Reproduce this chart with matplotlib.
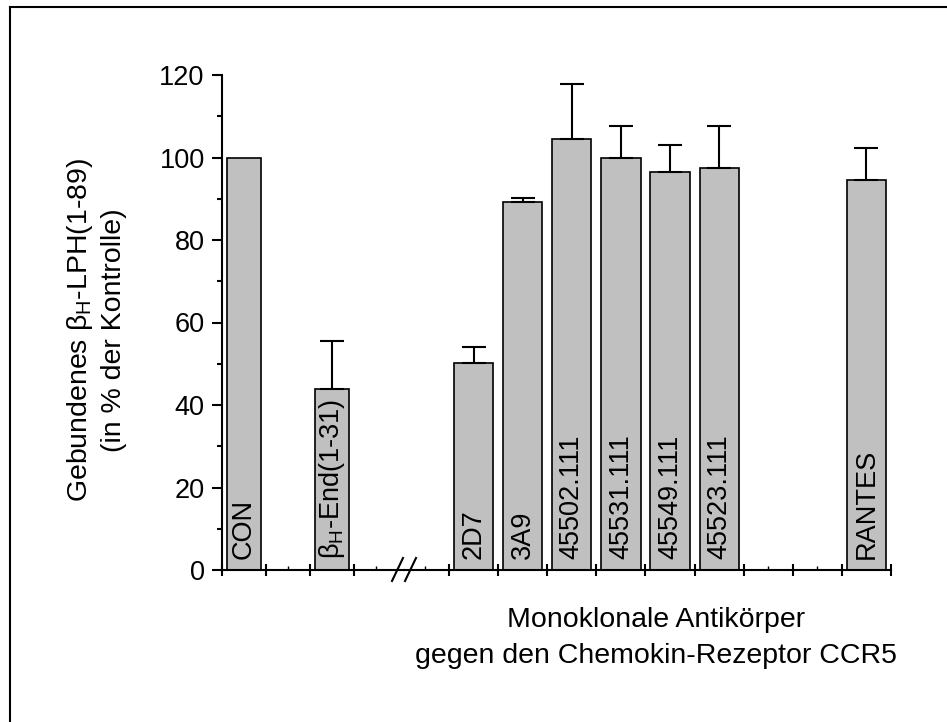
import matplotlib
matplotlib.use('Agg')
import matplotlib.pyplot as plt
from matplotlib.lines import Line2D
import numpy as np

# Daten
ctrl_labels = ['CON', r'β$_{\mathrm{H}}$-End(1-31)']
ctrl_slots = [0, 2]
ctrl_values = [100, 43.8]
ctrl_err = [0, 11.8]

ab_labels = ['2D7', '3A9', '45502.111', '45531.111', '45549.111', '45523.111', 'RANTES']
ab_slots = [0, 1, 2, 3, 4, 5, 8]
ab_values = [50.2, 89.3, 104.5, 100.0, 96.5, 97.5, 94.6]
ab_err = [3.9, 0.9, 13.3, 7.6, 6.6, 10.1, 7.6]

plt.rcParams['font.family'] = ['Liberation Sans', 'DejaVu Sans']
plt.rcParams['mathtext.fontset'] = 'custom'
plt.rcParams['mathtext.rm'] = 'Liberation Sans'
plt.rcParams['mathtext.it'] = 'Liberation Sans:italic'

W, H = 947, 722
fig = plt.figure(figsize=(W / 100, H / 100), dpi=100)

# axes positions in pixels
x0, xb, x1 = 222, 404, 891
y0, y1 = 570, 75
bot = 1 - y0 / H
hgt = (y0 - y1) / H
ax1 = fig.add_axes([x0 / W, bot, (xb - x0) / W, hgt])
ax2 = fig.add_axes([xb / W, bot, (x1 - xb) / W, hgt])

bar_color = '#c0c0c0'
lw_axis = 1.5

# linker Teil
ctrl_x = np.array(ctrl_slots) + 0.5
ax1.bar(ctrl_x, ctrl_values, width=0.77,
        color=bar_color, edgecolor='black', linewidth=1.2, zorder=2)
ax1.errorbar(ctrl_x[1:], ctrl_values[1:], yerr=[[0], ctrl_err[1:]], fmt='none',
             ecolor='black', elinewidth=1.5, capsize=8.3, capthick=1.5, zorder=3)
ax1.set_xlim(0, (xb - x0) / 44)
ax1.set_xticks([0, 1, 2, 3])
ax1.set_xticks([0.5, 1.5, 2.5, 3.5], minor=True)

# rechter Teil
ab_x = np.array(ab_slots) + 0.5
ax2.bar(ab_x, ab_values, width=0.8, color=bar_color, edgecolor='black',
        linewidth=1.2, zorder=2)
ax2.errorbar(ab_x, ab_values, yerr=[np.zeros(len(ab_err)), ab_err], fmt='none',
             ecolor='black', elinewidth=1.5, capsize=8.3, capthick=1.5, zorder=3)
ax2.set_xlim((xb - 449) / 49, 9)
ax2.set_xticks(np.arange(0, 10))
ax2.set_xticks(np.arange(-0.5, 9, 1.0), minor=True)

for ax in (ax1, ax2):
    ax.set_ylim(0, 120)
    ax.spines['top'].set_visible(False)
    ax.spines['right'].set_visible(False)
    ax.spines['bottom'].set_linewidth(lw_axis)
    ax.spines['left'].set_linewidth(lw_axis)
    ax.tick_params(axis='x', which='major', direction='inout', length=9,
                   width=lw_axis, labelbottom=False)
    ax.tick_params(axis='x', which='minor', direction='in', length=3,
                   width=1.0)
    ax.patch.set_alpha(0)

ax2.spines['left'].set_visible(False)
ax2.tick_params(axis='y', which='both', left=False, labelleft=False)

ax1.set_yticks(np.arange(0, 121, 20))
ax1.set_yticks(np.arange(10, 120, 20), minor=True)
ax1.tick_params(axis='y', which='major', direction='out', length=7.5,
                width=lw_axis, labelsize=19.5, pad=5)
ax1.tick_params(axis='y', which='minor', direction='out', length=3.8,
                width=lw_axis)

# Beschriftungen in den Balken
for x, lab in zip(ctrl_x, ctrl_labels):
    ax1.text(x, 2.6, lab, rotation=90, ha='center', va='bottom', fontsize=19.5,
             zorder=4)
for x, lab in zip(ab_x, ab_labels):
    ax2.text(x, 2.6, lab, rotation=90, ha='center', va='bottom', fontsize=19.5,
             zorder=4)

# Achsenbruch //
for dx in (392, 405):
    fig.add_artist(Line2D([dx / W, (dx + 11) / W], [1 - 581 / H, 1 - 558 / H],
                          color='black', linewidth=1.5))

# Achsentitel
fig.text(96 / W, 1 - 330 / H,
         'Gebundenes β$_{\\mathrm{H}}$-LPH(1-89)\n(in % der Kontrolle)',
         rotation=90, ha='center', va='center', multialignment='center',
         fontsize=20.5, linespacing=1.3)
fig.text(656 / W, 1 - 638 / H,
         'Monoklonale Antikörper\ngegen den Chemokin-Rezeptor CCR5',
         ha='center', va='center', multialignment='center', fontsize=20.5,
         linespacing=1.5)

# Rahmen um die Abbildung
fig.add_artist(Line2D([10 / W, 10 / W], [0, 1 - 7 / H], color='black', linewidth=1.5))
fig.add_artist(Line2D([10 / W, 1], [1 - 7 / H, 1 - 7 / H], color='black', linewidth=1.5))

fig.savefig('out.png', dpi=100)
